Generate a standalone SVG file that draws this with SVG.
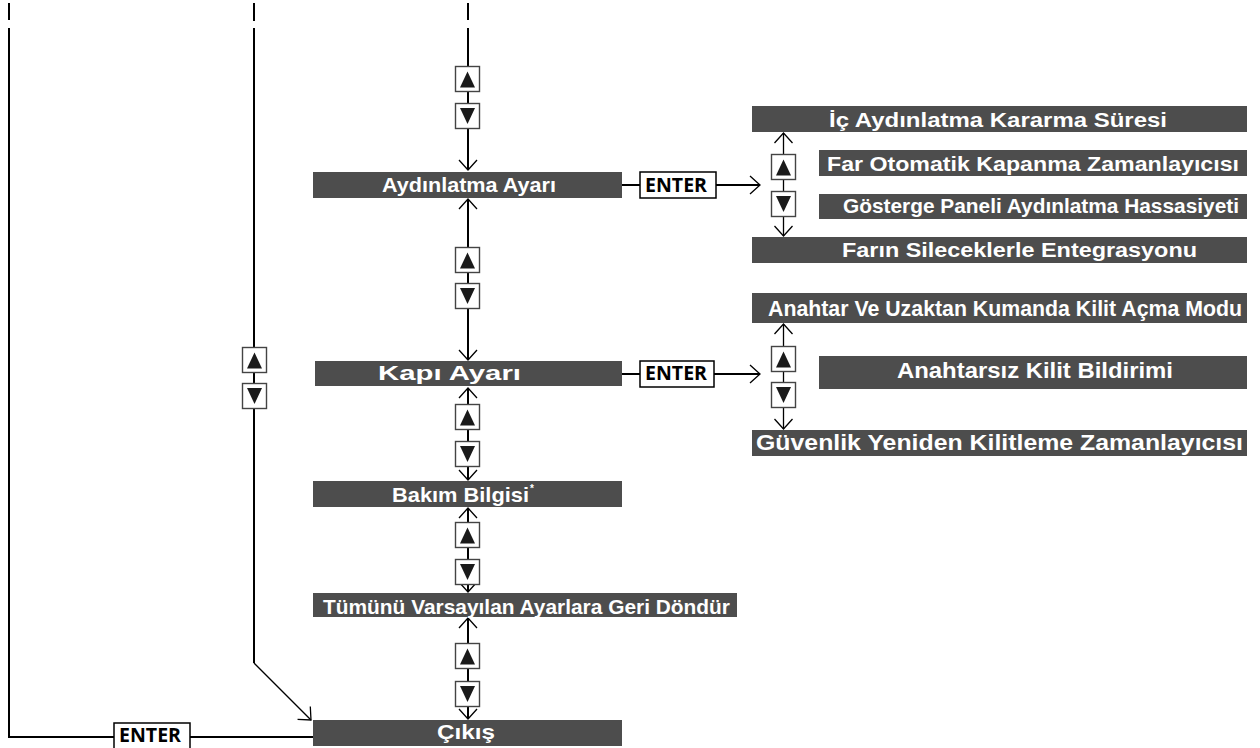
<svg xmlns="http://www.w3.org/2000/svg" xmlns:xlink="http://www.w3.org/1999/xlink" width="1260" height="748" viewBox="0 0 1260 748">
<style>
.bar{fill:#4d4d4d}
.lbl{font-family:"Liberation Sans",Arial,sans-serif;font-weight:bold;fill:#fff}
.m{font-size:21px}
.s1{font-size:20px}
.s2{font-size:22px}
.ln{stroke:#000;stroke-width:2;fill:none}
.tn{stroke:#000;stroke-width:1.3;fill:none}
.ebox{fill:#fff;stroke:#000;stroke-width:1.5}
.etxt{font-family:"Open Sans","DejaVu Sans",sans-serif;font-weight:bold;font-size:19px;fill:#000}
</style>
<defs>
<marker id="ah" markerUnits="userSpaceOnUse" markerWidth="30" markerHeight="30" viewBox="-15 -15 30 30" refX="0" refY="0" orient="auto-start-reverse" overflow="visible">
<path d="M-10,-9 L0,0 L-10,9" fill="none" stroke="#000" stroke-width="1.3"/>
</marker>
<g id="up"><rect x="0.5" y="0.5" width="24" height="25" fill="#fff" stroke="#444" stroke-width="1.4"/><polygon points="12.5,5.5 20,21.5 5,21.5" fill="#1a1a1a"/></g>
<g id="dn"><rect x="0.5" y="0.5" width="24" height="25" fill="#fff" stroke="#444" stroke-width="1.4"/><polygon points="5,5 20,5 12.5,21" fill="#1a1a1a"/></g>
</defs>

<g id="connectors">
<path class="ln" d="M9,3 V20 M254,3 V21 M468,3 V20"/>
<path class="ln" d="M9,28 V737 H114 M190,737 H313"/>
<path class="ln" d="M254,28 V663"/>
<path class="tn" d="M254,663 L311,720" marker-end="url(#ah)"/>
<path class="ln" d="M468,28 V170" marker-end="url(#ah)"/>
<path class="ln" d="M468,199 V360" marker-start="url(#ah)" marker-end="url(#ah)"/>
<path class="ln" d="M468,388 V480" marker-start="url(#ah)" marker-end="url(#ah)"/>
<path class="ln" d="M468,508 V592" marker-start="url(#ah)" marker-end="url(#ah)"/>
<path class="ln" d="M468,618 V719" marker-start="url(#ah)" marker-end="url(#ah)"/>
<path class="ln" d="M622,185 H640"/>
<path class="ln" d="M716,185 H760" marker-end="url(#ah)"/>
<path class="ln" d="M622,374 H640"/>
<path class="ln" d="M714,374 H760" marker-end="url(#ah)"/>
<path class="tn" d="M783.5,133 V236" marker-start="url(#ah)" marker-end="url(#ah)"/>
<path class="tn" d="M783.5,324 V429" marker-start="url(#ah)" marker-end="url(#ah)"/>
</g>

<g id="buttons">
<use xlink:href="#up" x="455" y="66"/><use xlink:href="#dn" x="455" y="103"/>
<use xlink:href="#up" x="455" y="247"/><use xlink:href="#dn" x="455" y="283"/>
<use xlink:href="#up" x="455" y="404"/><use xlink:href="#dn" x="455" y="441"/>
<use xlink:href="#up" x="455" y="522"/><use xlink:href="#dn" x="455" y="559"/>
<use xlink:href="#up" x="455" y="643"/><use xlink:href="#dn" x="455" y="681"/>
<use xlink:href="#up" x="242" y="347"/><use xlink:href="#dn" x="242" y="383"/>
<use xlink:href="#up" x="771" y="154"/><use xlink:href="#dn" x="771" y="191"/>
<use xlink:href="#up" x="771" y="346"/><use xlink:href="#dn" x="771" y="382"/>
</g>

<g id="enter1"><rect class="ebox" x="640" y="172" width="76" height="26"/><text class="etxt" x="645" y="192" textLength="62" lengthAdjust="spacingAndGlyphs">ENTER</text></g>
<g id="enter2"><rect class="ebox" x="640" y="361" width="74" height="26"/><text class="etxt" x="645" y="380" textLength="62" lengthAdjust="spacingAndGlyphs">ENTER</text></g>
<g id="enter3"><rect class="ebox" x="114" y="723" width="76" height="30"/><text class="etxt" x="119" y="742" textLength="62" lengthAdjust="spacingAndGlyphs">ENTER</text></g>

<g id="aydinlatma"><rect class="bar" x="313" y="172" width="309" height="26"/><text class="lbl m" x="382" y="191.5" textLength="174" lengthAdjust="spacingAndGlyphs">Aydınlatma Ayarı</text></g>
<g id="kapi"><rect class="bar" x="315" y="361" width="307" height="25"/><text class="lbl m" x="378" y="380" textLength="143" lengthAdjust="spacingAndGlyphs">Kapı Ayarı</text></g>
<g id="bakim"><rect class="bar" x="313" y="481" width="309" height="26"/><text class="lbl m" x="392" y="502" textLength="137" lengthAdjust="spacingAndGlyphs">Bakım Bilgisi</text><text class="lbl" x="530" y="492" font-size="10">*</text></g>
<g id="tumunu"><rect class="bar" x="313" y="593" width="424" height="24"/><text class="lbl m" x="323" y="613.5" textLength="407" lengthAdjust="spacingAndGlyphs">Tümünü Varsayılan Ayarlara Geri Döndür</text></g>
<g id="cikis"><rect class="bar" x="313" y="720" width="309" height="26"/><text class="lbl m" x="437" y="739" textLength="58" lengthAdjust="spacingAndGlyphs">Çıkış</text></g>

<g id="ic-aydinlatma"><rect class="bar" x="752" y="106" width="495" height="26"/><text class="lbl s1" x="829" y="127" textLength="338" lengthAdjust="spacingAndGlyphs">İç Aydınlatma Kararma Süresi</text></g>
<g id="far-otomatik"><rect class="bar" x="819" y="150" width="428" height="26"/><text class="lbl s1" x="827" y="171" textLength="412" lengthAdjust="spacingAndGlyphs">Far Otomatik Kapanma Zamanlayıcısı</text></g>
<g id="gosterge"><rect class="bar" x="819" y="194" width="428" height="25"/><text class="lbl s1" x="843" y="213" textLength="396" lengthAdjust="spacingAndGlyphs">Gösterge Paneli Aydınlatma Hassasiyeti</text></g>
<g id="farin"><rect class="bar" x="752" y="237" width="495" height="26"/><text class="lbl s1" x="842" y="257" textLength="355" lengthAdjust="spacingAndGlyphs">Farın Sileceklerle Entegrasyonu</text></g>

<g id="anahtar-uzaktan"><rect class="bar" x="752" y="293" width="495" height="30"/><text class="lbl s2" x="768" y="316" textLength="474" lengthAdjust="spacingAndGlyphs">Anahtar Ve Uzaktan Kumanda Kilit Açma Modu</text></g>
<g id="anahtarsiz"><rect class="bar" x="819" y="356" width="428" height="33"/><text class="lbl s2" x="897" y="378" textLength="276" lengthAdjust="spacingAndGlyphs">Anahtarsız Kilit Bildirimi</text></g>
<g id="guvenlik"><rect class="bar" x="752" y="430" width="495" height="26"/><text class="lbl s2" x="756" y="450" textLength="487" lengthAdjust="spacingAndGlyphs">Güvenlik Yeniden Kilitleme Zamanlayıcısı</text></g>
</svg>
